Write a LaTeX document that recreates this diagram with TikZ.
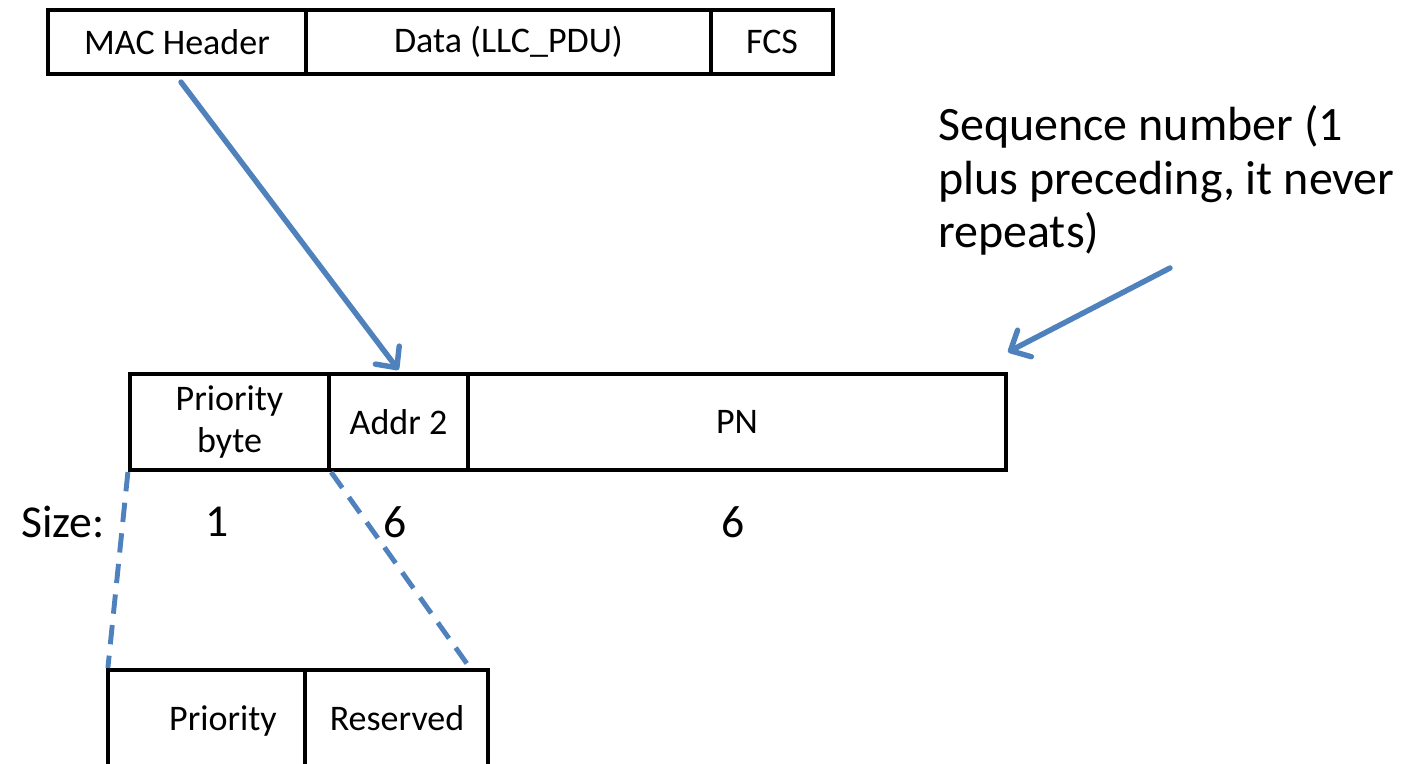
\documentclass[tikz,border=0pt]{standalone}
\usepackage{fontspec}
\setmainfont{Carlito}
\usetikzlibrary{arrows.meta}
\definecolor{arrowblue}{RGB}{79,129,189}
\tikzset{
  field/.style={draw=black, line width=2.4pt, rectangle, inner sep=0pt, align=center,
    font=\fontsize{20.5}{23.5}\selectfont},
  fieldtext/.style={inner sep=0pt, text height=14pt, text depth=4pt, font=\fontsize{20.5}{23.5}\selectfont},
  bigtext/.style={inner sep=0pt, font=\fontsize{26}{31}\selectfont},
  pointer/.style={draw=arrowblue, line width=3.1pt, line cap=round,
    -{Straight Barb[length=9pt,width=17pt,line width=3.1pt,round]}},
  expand/.style={draw=arrowblue, line width=2.8pt, dash pattern=on 11pt off 6.5pt}
}
\begin{document}
\begin{tikzpicture}[x=0.02cm,y=-0.02cm]
\useasboundingbox (0,0) rectangle (1411,764);
\clip (0,0) rectangle (1411,764);
% top frame
\node[field, minimum width=258*0.02cm, minimum height=64*0.02cm] (mac) at (177,42) {MAC Header};
\node[field, minimum width=405*0.02cm, minimum height=64*0.02cm] (data) at (508.5,42) {Data (LLC\_PDU)};
\node[field, minimum width=122*0.02cm, minimum height=64*0.02cm] (fcs) at (772,42) {FCS};
% middle frame
\node[field, minimum width=199*0.02cm, minimum height=96*0.02cm] (pb) at (229.5,422) {Priority\\byte};
\node[field, minimum width=139*0.02cm, minimum height=96*0.02cm] (addr) at (398.5,422) {Addr 2};
\node[field, minimum width=538*0.02cm, minimum height=96*0.02cm] (pn) at (737,422) {PN};
% bottom frame (cut off by the page edge)
\node[field, minimum width=197*0.02cm, minimum height=180*0.02cm] (pri) at (206.5,760) {};
\node[field, minimum width=183*0.02cm, minimum height=180*0.02cm] (res) at (396.5,760) {};
\node[fieldtext] (pritxt) at (223,722) {Priority};
\node[fieldtext] (restxt) at (397,722) {Reserved};
% size row
\node[bigtext] (size) at (63,522) {Size:};
\node[bigtext] (s1) at (217,522) {1};
\node[bigtext] (s2) at (395,522) {6};
\node[bigtext] (s3) at (733,522) {6};
% sequence note
\node[inner sep=0pt, font=\fontsize{27.3}{30.5}\selectfont, anchor=north west, align=left] (seq) at (938,105) {Sequence number (1\\plus preceding, it never\\repeats)};
% connectors
\draw[pointer] ([xshift=4*0.02cm,yshift=-6*0.02cm]mac.south) -- ([yshift=2*0.02cm]addr.north);
\coordinate (seqtail) at (1170,268);
\coordinate (seqhead) at (1008,352);
\draw[pointer] (seqtail) -- (seqhead);
\coordinate (resend) at (470,668);
\draw[expand] (pb.south west) -- ([xshift=2*0.02cm]pri.north west);
\draw[expand] (pb.south east) -- (resend);
\end{tikzpicture}
\end{document}
